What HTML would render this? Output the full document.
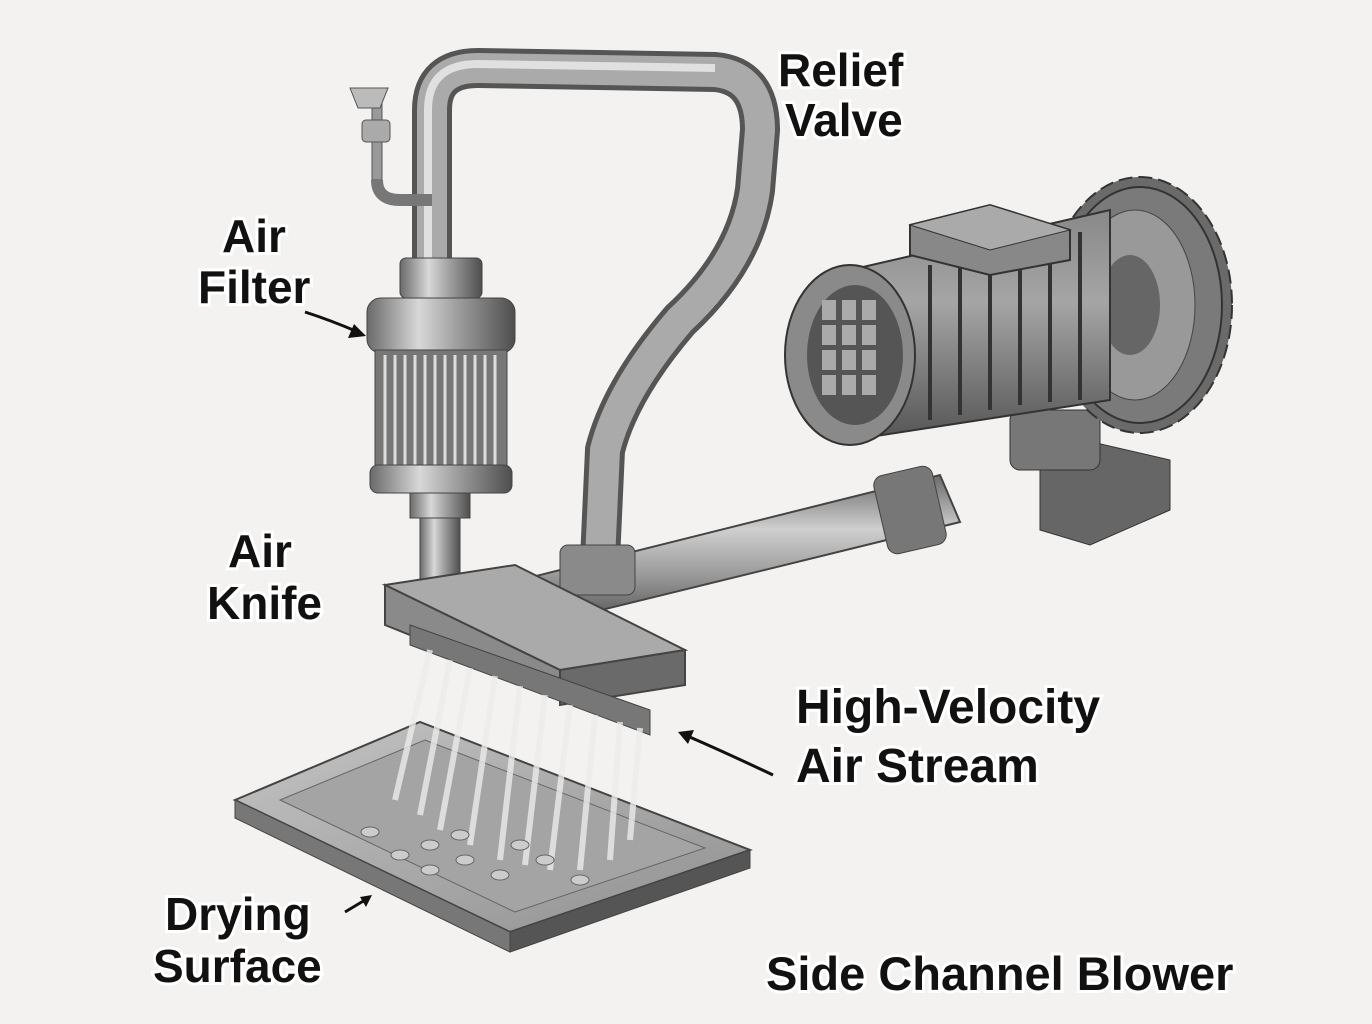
<!DOCTYPE html>
<html><head><meta charset="utf-8"><style>
html,body{margin:0;padding:0;background:#f3f2f0;}
svg{display:block}
text{font-family:"Liberation Sans",sans-serif;font-weight:bold;fill:#111;stroke:#fff;stroke-width:6px;paint-order:stroke;}
</style></head><body>
<svg width="1372" height="1024" viewBox="0 0 1372 1024">
<defs>
<linearGradient id="pv" x1="0" x2="1"><stop offset="0" stop-color="#6a6a6a"/><stop offset=".35" stop-color="#d8d8d8"/><stop offset=".6" stop-color="#a0a0a0"/><stop offset="1" stop-color="#4e4e4e"/></linearGradient>
<linearGradient id="ph" x1="0" y1="0" x2="0" y2="1"><stop offset="0" stop-color="#6a6a6a"/><stop offset=".35" stop-color="#cfcfcf"/><stop offset=".65" stop-color="#999"/><stop offset="1" stop-color="#4a4a4a"/></linearGradient>
<linearGradient id="mt" x1="0" y1="0" x2="0" y2="1"><stop offset="0" stop-color="#888"/><stop offset=".4" stop-color="#a5a5a5"/><stop offset="1" stop-color="#555"/></linearGradient>
<linearGradient id="tr" x1="0" y1="0" x2="1" y2="1"><stop offset="0" stop-color="#c4c4c4"/><stop offset="1" stop-color="#909090"/></linearGradient>
</defs>
<rect width="1372" height="1024" fill="#f3f2f0"/>
<!-- upper pipe -->
<path d="M432 270 L432 110 Q432 68 478 68 L715 72 Q760 76 760 130 L755 190 Q745 260 680 320 Q620 390 605 450 L600 560" fill="none" stroke="#555" stroke-width="40" stroke-linecap="round"/>
<path d="M432 270 L432 110 Q432 68 478 68 L715 72 Q760 76 760 130 L755 190 Q745 260 680 320 Q620 390 605 450 L600 560" fill="none" stroke="#aaa" stroke-width="30"/>
<path d="M428 270 L428 110 Q428 64 478 64 L715 68" fill="none" stroke="#e0e0e0" stroke-width="8"/>
<!-- small valve -->
<rect x="372" y="100" width="10" height="80" fill="#999" stroke="#555"/>
<rect x="362" y="120" width="28" height="22" rx="4" fill="#aaa" stroke="#555"/>
<path d="M350 88 L388 88 L380 108 L358 108Z" fill="#bbb" stroke="#555"/>
<path d="M377 180 Q377 200 400 200 L432 200" fill="none" stroke="#777" stroke-width="12"/>
<!-- horizontal pipe -->
<polygon points="500,585 940,475 960,522 520,630" fill="url(#ph)" stroke="#444" stroke-width="2"/>
<rect x="880" y="470" width="60" height="80" rx="10" fill="#777" stroke="#444" transform="rotate(-13 910 510)"/>
<rect x="560" y="545" width="75" height="50" rx="8" fill="#8a8a8a" stroke="#444"/>
<!-- blower base & motor -->
<polygon points="1040,430 1170,460 1170,510 1090,545 1040,530" fill="#666" stroke="#333"/>
<rect x="1010" y="410" width="90" height="60" rx="10" fill="#777" stroke="#333"/>
<circle cx="1140" cy="305" r="0" />
<ellipse cx="1140" cy="305" rx="92" ry="128" fill="#6a6a6a" stroke="#333" stroke-width="2" stroke-dasharray="14 6"/>
<ellipse cx="1140" cy="305" rx="82" ry="118" fill="#7a7a7a" stroke="#333" stroke-width="2"/>
<ellipse cx="1135" cy="305" rx="60" ry="95" fill="#999" stroke="#444"/>
<ellipse cx="1130" cy="305" rx="30" ry="50" fill="#666"/>
<polygon points="850,270 1110,210 1110,400 850,440" fill="url(#mt)" stroke="#333" stroke-width="2"/>
<g stroke="#333" stroke-width="4">
<line x1="930" y1="265" x2="930" y2="420"/><line x1="960" y1="258" x2="960" y2="415"/><line x1="990" y1="252" x2="990" y2="410"/><line x1="1020" y1="245" x2="1020" y2="405"/><line x1="1050" y1="238" x2="1050" y2="402"/><line x1="1080" y1="232" x2="1080" y2="400"/></g>
<polygon points="910,225 990,205 1070,230 1070,260 990,275 910,255" fill="#888" stroke="#333" stroke-width="2"/>
<polygon points="910,225 990,205 1070,230 990,250" fill="#aaa" stroke="#333"/>
<ellipse cx="850" cy="355" rx="65" ry="90" fill="#8a8a8a" stroke="#333" stroke-width="2"/>
<ellipse cx="855" cy="355" rx="48" ry="70" fill="#555"/>
<g fill="#aaa">
<rect x="822" y="300" width="14" height="20"/><rect x="842" y="300" width="14" height="20"/><rect x="862" y="300" width="14" height="20"/>
<rect x="822" y="325" width="14" height="20"/><rect x="842" y="325" width="14" height="20"/><rect x="862" y="325" width="14" height="20"/>
<rect x="822" y="350" width="14" height="20"/><rect x="842" y="350" width="14" height="20"/><rect x="862" y="350" width="14" height="20"/>
<rect x="822" y="375" width="14" height="20"/><rect x="842" y="375" width="14" height="20"/><rect x="862" y="375" width="14" height="20"/></g>
<!-- filter -->
<rect x="400" y="258" width="82" height="40" rx="6" fill="url(#pv)" stroke="#444"/>
<rect x="367" y="298" width="148" height="55" rx="14" fill="url(#pv)" stroke="#444"/>
<rect x="375" y="350" width="132" height="120" fill="#777" stroke="#444"/>
<g stroke="#ddd" stroke-width="3">
<line x1="385" y1="355" x2="385" y2="465"/><line x1="395" y1="355" x2="395" y2="465"/><line x1="405" y1="355" x2="405" y2="465"/><line x1="415" y1="355" x2="415" y2="465"/><line x1="425" y1="355" x2="425" y2="465"/><line x1="435" y1="355" x2="435" y2="465"/><line x1="445" y1="355" x2="445" y2="465"/><line x1="455" y1="355" x2="455" y2="465"/><line x1="465" y1="355" x2="465" y2="465"/><line x1="475" y1="355" x2="475" y2="465"/><line x1="485" y1="355" x2="485" y2="465"/><line x1="495" y1="355" x2="495" y2="465"/></g>
<rect x="370" y="465" width="142" height="28" rx="8" fill="url(#pv)" stroke="#444"/>
<rect x="410" y="493" width="60" height="25" fill="url(#pv)" stroke="#444"/>
<rect x="420" y="518" width="40" height="62" fill="url(#pv)" stroke="#444"/>
<!-- air knife -->
<polygon points="385,585 515,565 685,650 560,670" fill="#aaa" stroke="#444" stroke-width="2"/>
<polygon points="385,585 560,670 560,695 385,625" fill="#8a8a8a" stroke="#444" stroke-width="2"/>
<polygon points="560,670 685,650 685,685 560,705" fill="#6a6a6a" stroke="#444" stroke-width="2"/>
<polygon points="410,625 650,710 650,735 410,645" fill="#777" stroke="#444"/>
<!-- tray -->
<polygon points="235,800 420,722 750,850 510,932" fill="url(#tr)" stroke="#444" stroke-width="2"/>
<polygon points="235,800 510,932 510,952 235,818" fill="#777" stroke="#444"/>
<polygon points="510,932 750,850 750,868 510,952" fill="#555" stroke="#444"/>
<polygon points="280,800 425,740 705,848 515,912" fill="#a4a4a4" stroke="#666"/>
<!-- jets -->
<g stroke="#ececec" stroke-width="6" opacity=".8">
<line x1="430" y1="650" x2="395" y2="800"/><line x1="450" y1="660" x2="420" y2="815"/><line x1="470" y1="668" x2="440" y2="830"/><line x1="495" y1="676" x2="470" y2="845"/><line x1="520" y1="686" x2="500" y2="860"/><line x1="545" y1="695" x2="525" y2="865"/><line x1="570" y1="705" x2="550" y2="870"/><line x1="595" y1="715" x2="580" y2="870"/><line x1="620" y1="722" x2="610" y2="860"/><line x1="640" y1="728" x2="630" y2="840"/></g>
<g fill="#ccc" stroke="#666">
<ellipse cx="370" cy="832" rx="9" ry="5"/><ellipse cx="400" cy="855" rx="9" ry="5"/><ellipse cx="430" cy="845" rx="9" ry="5"/><ellipse cx="465" cy="860" rx="9" ry="5"/><ellipse cx="430" cy="870" rx="9" ry="5"/><ellipse cx="500" cy="875" rx="9" ry="5"/><ellipse cx="545" cy="860" rx="9" ry="5"/><ellipse cx="580" cy="880" rx="9" ry="5"/><ellipse cx="460" cy="835" rx="9" ry="5"/><ellipse cx="520" cy="845" rx="9" ry="5"/></g>
<!-- arrows -->
<g fill="none" stroke="#111" stroke-width="3">
<path d="M305 312 Q330 320 358 332"/><path d="M773 775 Q720 750 685 735"/><path d="M345 912 L365 900"/></g>
<polygon points="366,336 348,338 354,324" fill="#111"/>
<polygon points="678,732 694,730 688,744" fill="#111"/>
<polygon points="372,895 360,897 366,907" fill="#111"/>
<!-- labels -->
<text x="778" y="86" font-size="46">Relief</text>
<text x="785" y="136" font-size="46">Valve</text>
<text x="222" y="252" font-size="46">Air</text>
<text x="198" y="303" font-size="46">Filter</text>
<text x="228" y="567" font-size="46">Air</text>
<text x="207" y="619" font-size="46">Knife</text>
<text x="796" y="723" font-size="48">High-Velocity</text>
<text x="796" y="782" font-size="48">Air Stream</text>
<text x="165" y="930" font-size="46">Drying</text>
<text x="153" y="982" font-size="46">Surface</text>
<text x="766" y="990" font-size="47">Side Channel Blower</text>
</svg>
</body></html>
